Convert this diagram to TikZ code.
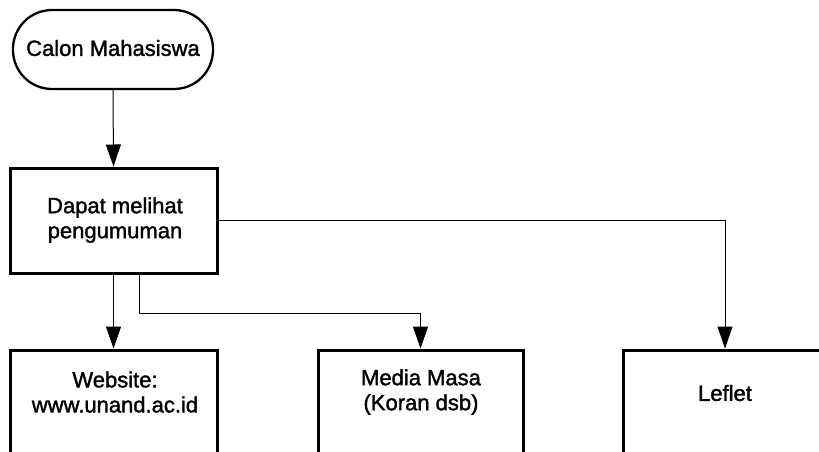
\documentclass[tikz,border=0pt]{standalone}
\usepackage{fontspec}
\setmainfont{Liberation Sans}[BoldFont={Liberation Sans}, BoldFeatures={FakeBold=1.5}]
\usetikzlibrary{arrows.meta}
\begin{document}
\begin{tikzpicture}[x=1pt,y=-1pt,
  lbl/.style={font=\fontsize{22}{25}\selectfont\bfseries, align=center, inner sep=0pt},
  startbox/.style={draw, line width=2.3pt, rounded corners=39pt, minimum width=200pt, minimum height=79pt, inner sep=0pt},
  procbox/.style={draw, line width=3pt, inner sep=0pt},
  conn/.style={line width=1pt},
  arr/.style={conn, -{Triangle[width=15pt,length=22pt]}}]
\useasboundingbox (0,0) rectangle (819,451);
\clip (0,0) rectangle (819,451);
\fill[white] (0,0) rectangle (819,451);
\node[startbox] (calon) at (113,49.5) {};
\node[lbl] (calont) at (113,48) {Calon Mahasiswa};
\node[procbox, minimum width=207pt, minimum height=105pt] (dapat) at (113.5,220.5) {};
\node[lbl] (dapatt) at (115,220) {Dapat melihat\\pengumuman};
\node[procbox, minimum width=207pt, minimum height=220pt] (web) at (113.5,460) {};
\node[lbl] (webt) at (115,392) {Website:\\www.unand.ac.id};
\node[procbox, minimum width=205pt, minimum height=220pt] (media) at (420.5,460) {};
\node[lbl] (mediat) at (421,392) {Media Masa\\(Koran dsb)};
\node[procbox, minimum width=204pt, minimum height=220pt] (leflet) at (725,460) {};
\node[lbl] (leflett) at (725,393) {Leflet};
\draw[arr] (calon.south) -- (dapat.north);
\draw[arr] (dapat.south) -- (web.north);
\draw[arr] ([xshift=25.5pt]dapat.south) -- ++(0,39) -| (media.north);
\draw[arr] (dapat.east) -| (leflet.north);
\end{tikzpicture}
\end{document}
